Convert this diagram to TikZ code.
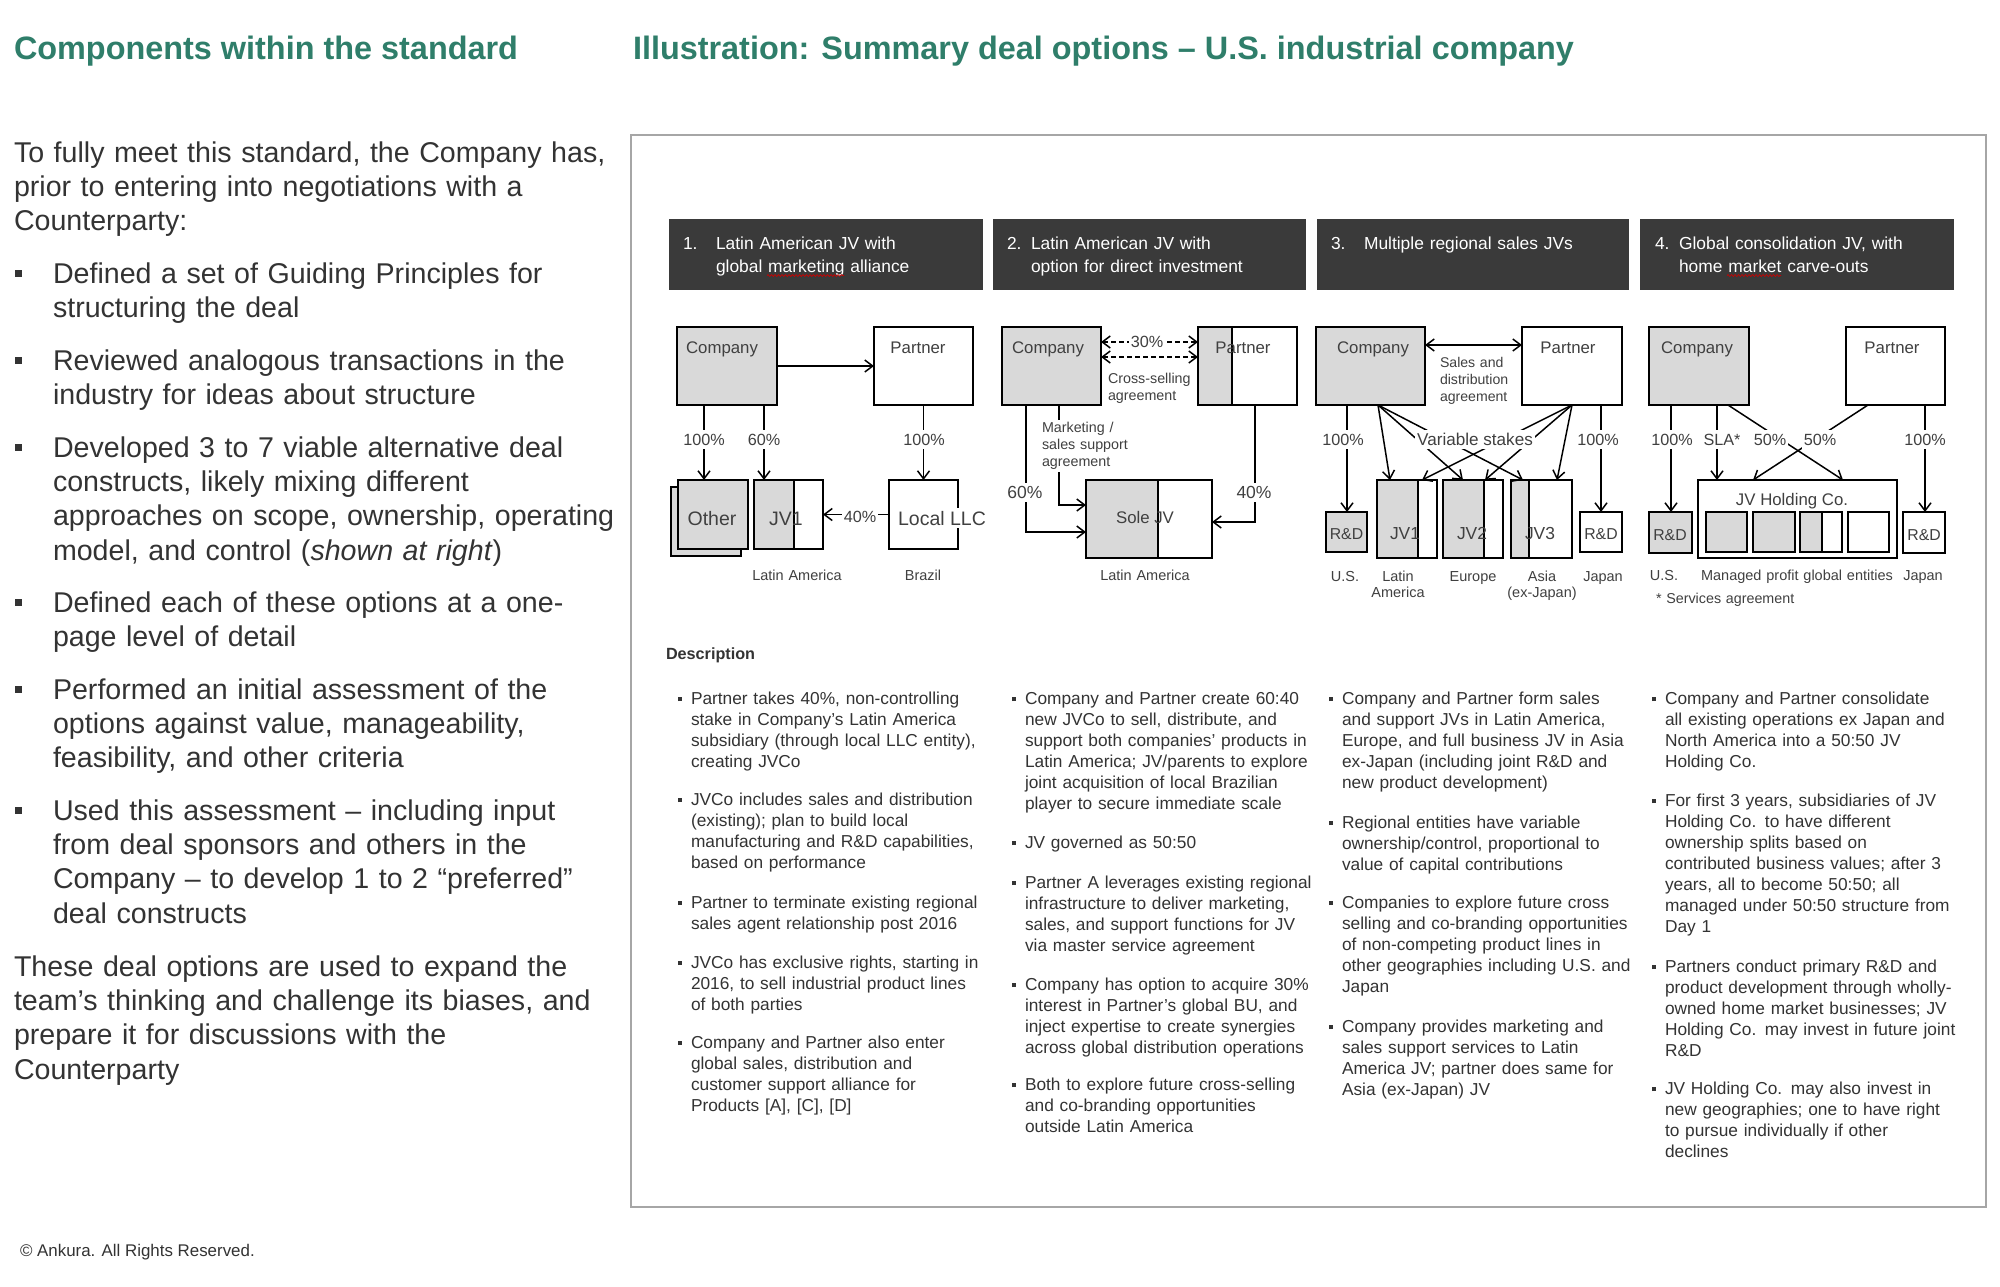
\documentclass[tikz,border=0pt]{standalone}
\usepackage{fontspec}
\setmainfont{Liberation Sans}
\usetikzlibrary{arrows.meta,decorations.pathmorphing}
\definecolor{hgreen}{HTML}{2F7E6A}
\definecolor{txt}{HTML}{333333}
\definecolor{hdr}{HTML}{3A3A3A}
\definecolor{gfill}{HTML}{D9D9D9}
\definecolor{frame}{HTML}{A6A6A6}
\definecolor{dtxt}{HTML}{404040}
\newcommand\setfs[2]{\fontsize{#1}{#2}\selectfont}
\newcommand\bulA{\llap{\raisebox{6pt}{\rule{7.5pt}{7.5pt}}\hspace{31pt}}}
\newcommand\bulB{\llap{\raisebox{3pt}{\rule{4.5pt}{4.5pt}}\hspace{9pt}}}
\tikzset{
 every node/.style={inner sep=0pt, outer sep=0pt},
 head/.style={anchor=base west, font=\setfs{32.4}{38}\bfseries, text=hgreen},
 body/.style={anchor=base west, font=\setfs{28.6}{34.4}, text=txt, text width=620pt, align=left},
 desc/.style={anchor=base west, font=\setfs{17.3}{21.1}, text=txt, text width=330pt, align=left},
 hbox/.style={fill=hdr, draw=none, anchor=north west, minimum height=71pt},
 htext/.style={anchor=base west, font=\setfs{17.4}{23.5}, text=white, text width=280pt, align=left},
 bx/.style={draw=black, line width=1.4pt, fill=white},
 gbx/.style={bx, fill=gfill},
 halfbox/.style={bx, path picture={
   \fill[gfill] (path picture bounding box.north west) rectangle ([xshift=#1pt]path picture bounding box.south west);
   \draw[line width=1.4pt] ([xshift=#1pt]path picture bounding box.north west) -- ([xshift=#1pt]path picture bounding box.south west);}},
 nm/.style={font=\setfs{16.8}{20}, text=dtxt, anchor=base},
 big/.style={font=\setfs{19.5}{22}, text=dtxt, anchor=base},
 rd/.style={font=\setfs{15.8}{18}, text=dtxt, anchor=base},
 jvt/.style={font=\setfs{17.4}{20}, text=dtxt, anchor=base},
 pct/.style={font=\setfs{16.2}{18}, text=dtxt, anchor=base, fill=white, inner xsep=2pt, inner ysep=2pt, text height=13pt, text depth=2pt},
 capt/.style={font=\setfs{14.5}{16.5}, text=dtxt, anchor=base, text width=100pt, align=center},
 small/.style={font=\setfs{14.3}{17.3}, text=dtxt, anchor=base west, text width=120pt, align=left},
 arr/.style={draw=black, line width=1.5pt, -{Straight Barb[length=8pt,width=12pt]}},
 darr/.style={draw=black, line width=1.5pt, {Straight Barb[length=8pt,width=12pt]}-{Straight Barb[length=8pt,width=12pt]}},
 wave/.style={draw=red!80!black, line width=0.7pt, decorate, decoration={snake, amplitude=0.9pt, segment length=3.5pt}},
}
\begin{document}
\begin{tikzpicture}[x=1pt,y=-1pt]
\fill[white] (0,0) rectangle (2000,1286);
\useasboundingbox (0,0) rectangle (2000,1286);

% titles
\node[head] (title1) at (14,59) {Components within the standard};
\node[head] (title2) at (633,59) {Illustration: Summary deal options – U.S. industrial company};

% left text
\node[body] (t0) at (14,162) {To fully meet this standard, the Company has,\\prior to entering into negotiations with a\\Counterparty:};
\node[body] (t1) at (53,283) {\bulA Defined a set of Guiding Principles for\\structuring the deal};
\node[body] (t2) at (53,370) {\bulA Reviewed analogous transactions in the\\industry for ideas about structure};
\node[body] (t3) at (53,457) {\bulA Developed 3 to 7 viable alternative deal\\constructs, likely mixing different\\approaches on scope, ownership, operating\\model, and control (\textit{shown at right})};
\node[body] (t4) at (53,612) {\bulA Defined each of these options at a one-\\page level of detail};
\node[body] (t5) at (53,699) {\bulA Performed an initial assessment of the\\options against value, manageability,\\feasibility, and other criteria};
\node[body] (t6) at (53,820) {\bulA Used this assessment – including input\\from deal sponsors and others in the\\Company – to develop 1 to 2 “preferred”\\deal constructs};
\node[body] (t7) at (14,976) {These deal options are used to expand the\\team’s thinking and challenge its biases, and\\prepare it for discussions with the\\Counterparty};

\node[anchor=base west, font=\setfs{16.9}{20}, text=txt] (foot) at (20,1256) {© Ankura. All Rights Reserved.};

% panel
\node[draw=frame, line width=1.3pt, minimum width=1355pt, minimum height=1072pt, anchor=north west] (panel) at (631,135) {};

% header boxes
\node[hbox, minimum width=314pt] (h1) at (669,219) {};
\node[hbox, minimum width=313pt] (h2) at (993,219) {};
\node[hbox, minimum width=312pt] (h3) at (1317,219) {};
\node[hbox, minimum width=314pt] (h4) at (1640,219) {};
\node[htext, text width=30pt] (h1n) at (683,249) {1.};
\node[htext] (h1t) at (716,249) {Latin American JV with\\global marketing alliance};
\node[htext, text width=30pt] (h2n) at (1007,249) {2.};
\node[htext] (h2t) at (1031,249) {Latin American JV with\\option for direct investment};
\node[htext, text width=30pt] (h3n) at (1331,249) {3.};
\node[htext] (h3t) at (1364,249) {Multiple regional sales JVs};
\node[htext, text width=30pt] (h4n) at (1655,249) {4.};
\node[htext] (h4t) at (1679,249) {Global consolidation JV, with\\home market carve-outs};
\draw[wave] (767,275.5) -- (844,275.5);
\draw[wave] (1727,275.5) -- (1781,275.5);

% ---------------- diagram 1
\node[gbx, minimum width=100pt, minimum height=78pt] (c1) at (727,366) {};
\node[bx, minimum width=99pt, minimum height=78pt] (p1) at (923.5,366) {};
\node[nm] (c1t) at (722,353) {Company};
\node[nm] (p1t) at (918,353) {Partner};
\node[gbx, minimum width=70pt, minimum height=69pt] (o1b) at (706,521.5) {};
\node[gbx, minimum width=70pt, minimum height=69pt] (o1) at (713,514.5) {};
\node[halfbox=40, minimum width=69pt, minimum height=69pt] (jv1) at (788.5,514.5) {};
\node[bx, minimum width=69pt, minimum height=69pt] (llc) at (923.5,514.5) {};
\draw[arr] (c1.east) -- (p1.west);
\draw[arr] (c1.south -| 704,0) -- (o1.north -| 704,0);
\draw[arr] (c1.south -| 764,0) -- (jv1.north -| 764,0);
\draw[arr] (p1.south) -- (llc.north);
\draw[arr] (llc.west) -- (jv1.east);
\node[big] (o1t) at (712,525) {Other};
\node[big] (jv1t) at (786,525) {JV1};
\node[big, fill=white, inner xsep=1pt, inner ysep=3pt] (llct) at (942,525) {Local LLC};
\node[pct] (l1a) at (704,445) {100\%};
\node[pct] (l1b) at (764,445) {60\%};
\node[pct] (l1c) at (924,445) {100\%};
\node[pct] (l1d) at (860,522) {40\%};
\node[capt] (cap1a) at (797,580) {Latin America};
\node[capt] (cap1b) at (923,580) {Brazil};

% ---------------- diagram 2
\node[gbx, minimum width=99pt, minimum height=78pt] (c2) at (1051.5,366) {};
\node[halfbox=34, minimum width=99pt, minimum height=78pt] (p2) at (1247.5,366) {};
\node[nm] (c2t) at (1048,353) {Company};
\node[nm] (p2t) at (1243,353) {Partner};
\draw[darr, dash pattern=on 5pt off 3pt] (c2.east |- 0,342) -- (p2.west |- 0,342);
\draw[darr, dash pattern=on 5pt off 3pt] (c2.east |- 0,357) -- (p2.west |- 0,357);
\node[pct, text height=11.5pt, text depth=1pt, inner ysep=1pt] (l2a) at (1147,347.5) {30\%};
\node[small] (x2) at (1108,383) {Cross-selling\\agreement};
\node[halfbox=72, minimum width=126pt, minimum height=78pt] (sole) at (1149,519) {};
\node[nm] (solet) at (1145,523) {Sole JV};
\draw[arr] (c2.south -| 1026,0) |- (sole.west |- 0,532);
\draw[arr] (c2.south -| 1059,0) |- (sole.west |- 0,505);
\draw[arr] (p2.south -| 1255,0) |- (sole.east |- 0,522);
\node[pct, font=\setfs{17.5}{20}] (l2b) at (1025,498) {60\%};
\node[pct, font=\setfs{17.5}{20}] (l2c) at (1254,498) {40\%};
\node[small, text width=92pt, fill=white, inner sep=2pt] (m2) at (1040,432) {Marketing /\\sales support\\agreement};
\node[capt] (cap2) at (1145,580) {Latin America};

% ---------------- diagram 3
\node[gbx, minimum width=109pt, minimum height=78pt] (c3) at (1370.5,366) {};
\node[bx, minimum width=100pt, minimum height=78pt] (p3) at (1572,366) {};
\node[nm] (c3t) at (1373,353) {Company};
\node[nm] (p3t) at (1568,353) {Partner};
\draw[darr] (c3.east |- 0,345) -- (p3.west |- 0,345);
\node[small, font=\setfs{14.1}{17}] (s3) at (1440,367) {Sales and\\distribution\\agreement};
\node[gbx, minimum width=41pt, minimum height=40pt] (rd3a) at (1346.5,532) {};
\node[halfbox=41, minimum width=60pt, minimum height=78pt] (jv31) at (1407,519) {};
\node[halfbox=41, minimum width=60pt, minimum height=78pt] (jv32) at (1473,519) {};
\node[halfbox=18, minimum width=61pt, minimum height=78pt] (jv33) at (1541.5,519) {};
\node[bx, minimum width=42pt, minimum height=40pt] (rd3b) at (1601,532) {};
\draw[arr] (c3.south -| 1347,0) -- (rd3a.north -| 1347,0);
\draw[arr] (p3.south -| 1601,0) -- (rd3b.north -| 1601,0);
\draw[arr] (c3.south -| 1378,0) -- (jv31.north -| 1390,0);
\draw[arr] (c3.south -| 1378,0) -- (jv32.north -| 1463,0);
\draw[arr] (c3.south -| 1378,0) -- (jv33.north -| 1523,0);
\draw[arr] (p3.south) -- (jv31.north -| 1422,0);
\draw[arr] (p3.south) -- (jv32.north -| 1485,0);
\draw[arr] (p3.south) -- (jv33.north -| 1557,0);
\node[rd] (rd3at) at (1346.5,539) {R\&D};
\node[jvt] (jv31t) at (1405,539) {JV1};
\node[jvt] (jv32t) at (1472,539) {JV2};
\node[jvt] (jv33t) at (1540,539) {JV3};
\node[rd] (rd3bt) at (1601,539) {R\&D};
\node[pct] (l3a) at (1343,445) {100\%};
\node[pct] (l3b) at (1598,445) {100\%};
\node[pct, font=\setfs{17.1}{20}] (l3c) at (1475,445) {Variable stakes};
\node[capt] (cap3a) at (1345,581) {U.S.};
\node[capt] (cap3b) at (1398,581) {Latin\\America};
\node[capt] (cap3c) at (1473,581) {Europe};
\node[capt] (cap3d) at (1542,581) {Asia\\(ex-Japan)};
\node[capt] (cap3e) at (1603,581) {Japan};

% ---------------- diagram 4
\node[gbx, minimum width=100pt, minimum height=78pt] (c4) at (1699,366) {};
\node[bx, minimum width=99pt, minimum height=78pt] (p4) at (1895.5,366) {};
\node[nm] (c4t) at (1697,353) {Company};
\node[nm] (p4t) at (1892,353) {Partner};
\node[gbx, minimum width=43pt, minimum height=41pt] (rd4a) at (1670.5,532.5) {};
\node[bx, minimum width=199pt, minimum height=78pt] (jvh) at (1797.5,519) {};
\node[gbx, minimum width=41pt, minimum height=40pt] (i1) at (1726.5,532) {};
\node[gbx, minimum width=42pt, minimum height=40pt] (i2) at (1774,532) {};
\node[halfbox=22, minimum width=42pt, minimum height=40pt] (i3) at (1821,532) {};
\node[bx, minimum width=41pt, minimum height=40pt] (i4) at (1868.5,532) {};
\node[bx, minimum width=42pt, minimum height=41pt] (rd4b) at (1924,532.5) {};
\node[nm] (jvht) at (1792,505) {JV Holding Co.};
\node[rd] (rd4at) at (1670,540) {R\&D};
\node[rd] (rd4bt) at (1924,540) {R\&D};
\draw[arr] (c4.south -| 1671,0) -- (rd4a.north -| 1671,0);
\draw[arr] (c4.south -| 1717,0) -- (jvh.north -| 1717,0);
\draw[arr] (c4.south -| 1728,0) -- (jvh.north -| 1843,0);
\draw[arr] (p4.south -| 1868,0) -- (jvh.north -| 1753,0);
\draw[arr] (p4.south -| 1925,0) -- (rd4b.north -| 1925,0);
\node[pct] (l4a) at (1672,445) {100\%};
\node[pct] (l4b) at (1722,445) {SLA*};
\node[pct] (l4c) at (1770,445) {50\%};
\node[pct] (l4d) at (1820,445) {50\%};
\node[pct] (l4e) at (1925,445) {100\%};
\node[capt] (cap4a) at (1664,580) {U.S.};
\node[capt, text width=230pt] (cap4b) at (1797,580) {Managed profit global entities};
\node[capt] (cap4c) at (1923,580) {Japan};
\node[small, text width=200pt] (cap4d) at (1656,603) {* Services agreement};

% ---------------- description
\node[anchor=base west, font=\setfs{16.2}{20}\bfseries, text=txt] (dh) at (666,659) {Description};

\node[desc] (d1a) at (691,704) {\bulB Partner takes 40\%, non-controlling\\stake in Company’s Latin America\\subsidiary (through local LLC entity),\\creating JVCo};
\node[desc] (d1b) at (691,805) {\bulB JVCo includes sales and distribution\\(existing); plan to build local\\manufacturing and R\&D capabilities,\\based on performance};
\node[desc] (d1c) at (691,908) {\bulB Partner to terminate existing regional\\sales agent relationship post 2016};
\node[desc] (d1d) at (691,968) {\bulB JVCo has exclusive rights, starting in\\2016, to sell industrial product lines\\of both parties};
\node[desc] (d1e) at (691,1048) {\bulB Company and Partner also enter\\global sales, distribution and\\customer support alliance for\\Products [A], [C], [D]};

\node[desc] (d2a) at (1025,704) {\bulB Company and Partner create 60:40\\new JVCo to sell, distribute, and\\support both companies’ products in\\Latin America; JV/parents to explore\\joint acquisition of local Brazilian\\player to secure immediate scale};
\node[desc] (d2b) at (1025,848) {\bulB JV governed as 50:50};
\node[desc] (d2c) at (1025,888) {\bulB Partner A leverages existing regional\\infrastructure to deliver marketing,\\sales, and support functions for JV\\via master service agreement};
\node[desc] (d2d) at (1025,990) {\bulB Company has option to acquire 30\%\\interest in Partner’s global BU, and\\inject expertise to create synergies\\across global distribution operations};
\node[desc] (d2e) at (1025,1090) {\bulB Both to explore future cross-selling\\and co-branding opportunities\\outside Latin America};

\node[desc] (d3a) at (1342,704) {\bulB Company and Partner form sales\\and support JVs in Latin America,\\Europe, and full business JV in Asia\\ex-Japan (including joint R\&D and\\new product development)};
\node[desc] (d3b) at (1342,828) {\bulB Regional entities have variable\\ownership/control, proportional to\\value of capital contributions};
\node[desc] (d3c) at (1342,908) {\bulB Companies to explore future cross\\selling and co-branding opportunities\\of non-competing product lines in\\other geographies including U.S. and\\Japan};
\node[desc] (d3d) at (1342,1032) {\bulB Company provides marketing and\\sales support services to Latin\\America JV; partner does same for\\Asia (ex-Japan) JV};

\node[desc] (d4a) at (1665,704) {\bulB Company and Partner consolidate\\all existing operations ex Japan and\\North America into a 50:50 JV\\Holding Co.};
\node[desc] (d4b) at (1665,806) {\bulB For first 3 years, subsidiaries of JV\\Holding Co. to have different\\ownership splits based on\\contributed business values; after 3\\years, all to become 50:50; all\\managed under 50:50 structure from\\Day 1};
\node[desc] (d4c) at (1665,972) {\bulB Partners conduct primary R\&D and\\product development through wholly-\\owned home market businesses; JV\\Holding Co. may invest in future joint\\R\&D};
\node[desc] (d4d) at (1665,1094) {\bulB JV Holding Co. may also invest in\\new geographies; one to have right\\to pursue individually if other\\declines};
\end{tikzpicture}
\end{document}
